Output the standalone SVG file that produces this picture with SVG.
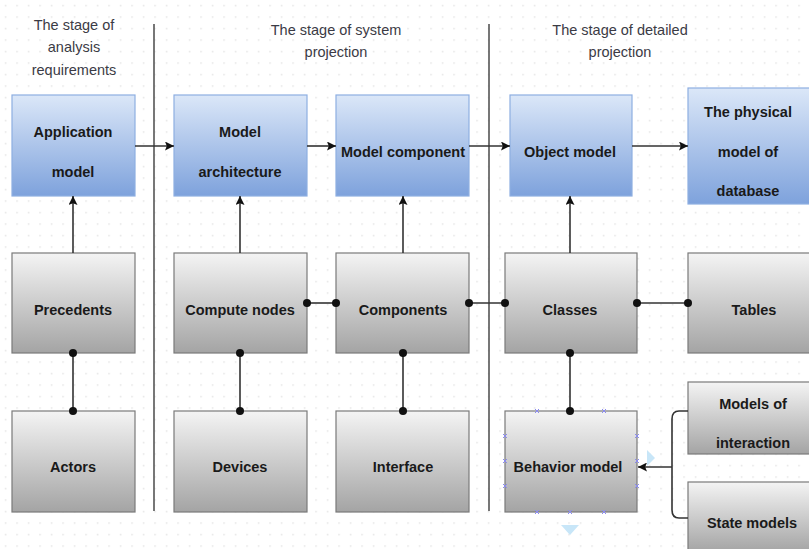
<svg xmlns="http://www.w3.org/2000/svg" width="809" height="549" viewBox="0 0 809 549">
<defs>
<pattern id="grid" width="11.5" height="11.5" patternUnits="userSpaceOnUse">
<rect x="5" y="5" width="1.2" height="1.2" fill="#d4d4d4"/>
</pattern>
<linearGradient id="gBlue" x1="0" y1="0" x2="0" y2="1">
<stop offset="0" stop-color="#dbe7f8"/>
<stop offset="1" stop-color="#7ea2dc"/>
</linearGradient>
<linearGradient id="gGray" x1="0" y1="0" x2="0" y2="1">
<stop offset="0" stop-color="#f4f4f4"/>
<stop offset="1" stop-color="#a4a4a4"/>
</linearGradient>
<marker id="arr" viewBox="0 0 10 10" refX="10" refY="5" markerWidth="9" markerHeight="9" markerUnits="userSpaceOnUse" orient="auto">
<path d="M0,0 L10,5 L0,10 L2,5 z" fill="#111"/>
</marker>
<marker id="dot" viewBox="0 0 10 10" refX="5" refY="5" markerWidth="8" markerHeight="8" markerUnits="userSpaceOnUse">
<circle cx="5" cy="5" r="5" fill="#111"/>
</marker>
</defs>
<style>
.blue{fill:url(#gBlue);stroke:#8eafe2;stroke-width:1.2}
.gray{fill:url(#gGray);stroke:#7a7a7a;stroke-width:1.2}
.lbl{font-family:"Liberation Sans",Arial,sans-serif;font-weight:bold;font-size:14.5px;fill:#1a1a1a;text-anchor:middle;dominant-baseline:central}
.hdr{font-family:"Liberation Sans",Arial,sans-serif;font-size:14.5px;fill:#3b3b45;text-anchor:middle;dominant-baseline:central}
.ln{stroke:#333;stroke-width:1.6;fill:none}
.div{stroke:#555;stroke-width:1.6}
.h{stroke:#8a8af0;stroke-width:1}
</style>
<rect width="809" height="549" fill="#ffffff"/>
<rect width="809" height="549" fill="url(#grid)"/>

<g id="headers">
<text class="hdr" x="74" y="25">The stage of</text>
<text class="hdr" x="74" y="47">analysis</text>
<text class="hdr" x="74" y="70">requirements</text>
<text class="hdr" x="336" y="30">The stage of system</text>
<text class="hdr" x="336" y="52">projection</text>
<text class="hdr" x="620" y="30">The stage of detailed</text>
<text class="hdr" x="620" y="52">projection</text>
</g>
<g id="dividers">
<line class="div" x1="154" y1="24" x2="154" y2="511"/>
<line class="div" x1="489" y1="24" x2="489" y2="511"/>
</g>

<g id="app-model"><rect class="blue" x="12" y="95" width="123" height="101"/><text class="lbl" x="73" y="132">Application</text><text class="lbl" x="73" y="172">model</text></g>
<g id="model-architecture"><rect class="blue" x="174" y="95" width="133" height="101"/><text class="lbl" x="240" y="132">Model</text><text class="lbl" x="240" y="172">architecture</text></g>
<g id="model-component"><rect class="blue" x="336" y="95" width="133" height="101"/><text class="lbl" x="403" y="152">Model component</text></g>
<g id="object-model"><rect class="blue" x="510" y="95" width="122" height="101"/><text class="lbl" x="570" y="152">Object model</text></g>
<g id="physical-model"><rect class="blue" x="688" y="88" width="124" height="116"/><text class="lbl" x="748" y="112">The physical</text><text class="lbl" x="748" y="152">model of</text><text class="lbl" x="748" y="191">database</text></g>

<g id="precedents"><rect class="gray" x="12" y="253" width="123" height="100"/><text class="lbl" x="73" y="310">Precedents</text></g>
<g id="compute-nodes"><rect class="gray" x="174" y="253" width="133" height="100"/><text class="lbl" x="240" y="310">Compute nodes</text></g>
<g id="components"><rect class="gray" x="336" y="253" width="133" height="100"/><text class="lbl" x="403" y="310">Components</text></g>
<g id="classes"><rect class="gray" x="505" y="253" width="132" height="100"/><text class="lbl" x="570" y="310">Classes</text></g>
<g id="tables"><rect class="gray" x="688" y="253" width="124" height="100"/><text class="lbl" x="754" y="310">Tables</text></g>

<g id="actors"><rect class="gray" x="12" y="411" width="123" height="101"/><text class="lbl" x="73" y="467">Actors</text></g>
<g id="devices"><rect class="gray" x="174" y="411" width="133" height="101"/><text class="lbl" x="240" y="467">Devices</text></g>
<g id="interface"><rect class="gray" x="336" y="411" width="133" height="101"/><text class="lbl" x="403" y="467">Interface</text></g>
<g id="behavior-model"><rect class="gray" x="505" y="411" width="132" height="101"/><text class="lbl" x="568" y="467">Behavior model</text></g>
<g id="models-of-interaction"><rect class="gray" x="688" y="382" width="124" height="72"/><text class="lbl" x="753" y="404">Models of</text><text class="lbl" x="753" y="443">interaction</text></g>
<g id="state-models"><rect class="gray" x="688" y="482" width="124" height="70"/><text class="lbl" x="752" y="523">State models</text></g>

<g id="connectors">
<line class="ln" x1="135" y1="146" x2="174" y2="146" marker-end="url(#arr)"/>
<line class="ln" x1="307" y1="146" x2="336" y2="146" marker-end="url(#arr)"/>
<line class="ln" x1="469" y1="146" x2="510" y2="146" marker-end="url(#arr)"/>
<line class="ln" x1="632" y1="146" x2="688" y2="146" marker-end="url(#arr)"/>
<line class="ln" x1="73" y1="253" x2="73" y2="196" marker-end="url(#arr)"/>
<line class="ln" x1="240" y1="253" x2="240" y2="196" marker-end="url(#arr)"/>
<line class="ln" x1="403" y1="253" x2="403" y2="196" marker-end="url(#arr)"/>
<line class="ln" x1="570" y1="253" x2="570" y2="196" marker-end="url(#arr)"/>
<line class="ln" x1="73" y1="353" x2="73" y2="411" marker-start="url(#dot)" marker-end="url(#dot)"/>
<line class="ln" x1="240" y1="353" x2="240" y2="411" marker-start="url(#dot)" marker-end="url(#dot)"/>
<line class="ln" x1="403" y1="353" x2="403" y2="411" marker-start="url(#dot)" marker-end="url(#dot)"/>
<line class="ln" x1="570" y1="353" x2="570" y2="411" marker-start="url(#dot)" marker-end="url(#dot)"/>
<line class="ln" x1="307" y1="303" x2="336" y2="303" marker-start="url(#dot)" marker-end="url(#dot)"/>
<line class="ln" x1="469" y1="303" x2="505" y2="303" marker-start="url(#dot)" marker-end="url(#dot)"/>
<line class="ln" x1="637" y1="303" x2="688" y2="303" marker-start="url(#dot)" marker-end="url(#dot)"/>
<path class="ln" d="M688,411 H679 Q672,411 672,419 V510 Q672,518 679,518 H688"/>
<line class="ln" x1="672" y1="467" x2="638" y2="467" marker-end="url(#arr)"/>
</g>

<g id="selection">
<g class="h">
<path d="M535,409 l4,4 M539,409 l-4,4 M602,409 l4,4 M606,409 l-4,4 M535,510 l4,4 M539,510 l-4,4 M568,510 l4,4 M572,510 l-4,4 M602,510 l4,4 M606,510 l-4,4"/>
<path d="M503,434 l4,4 M507,434 l-4,4 M503,459 l4,4 M507,459 l-4,4 M503,484 l4,4 M507,484 l-4,4 M635,434 l4,4 M639,434 l-4,4 M635,459 l4,4 M639,459 l-4,4 M635,484 l4,4 M639,484 l-4,4"/>
</g>
<path d="M647,450 L655,458 L647,466 z" fill="#c8e6f8"/>
<path d="M561,525 L579,525 L570,535 z" fill="#c8e6f8"/>
</g>
</svg>
